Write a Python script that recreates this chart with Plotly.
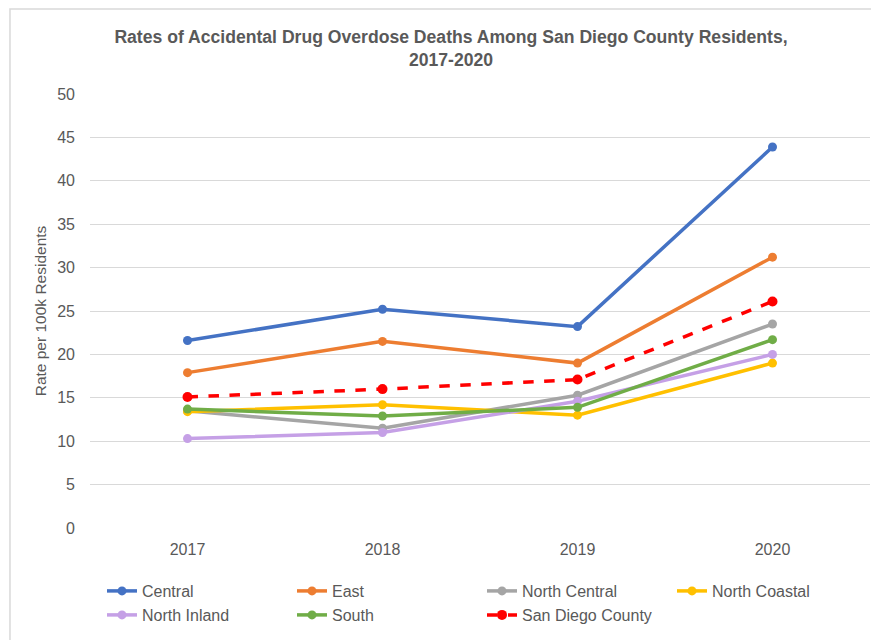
import plotly.graph_objects as go

years = ['2017', '2018', '2019', '2020']

central = [21.6, 25.2, 23.2, 43.9]
east = [17.9, 21.5, 19.0, 31.2]
north_central = [13.5, 11.5, 15.3, 23.5]
north_coastal = [13.4, 14.2, 13.0, 19.0]
north_inland = [10.3, 11.0, 14.6, 20.0]
south = [13.7, 12.9, 13.9, 21.7]
san_diego = [15.1, 16.0, 17.1, 26.1]

y_ticks = [0, 5, 10, 15, 20, 25, 30, 35, 40, 45, 50]

grey_text = '#595959'
# page body has an 8px margin, so the plot area margins are moved 8px up/left
off = 8

# (name, values, colour, legend row) - same order as the excel series, later ones drawn on top
series = [
    ('Central', central, '#4472C4', 'legend'),
    ('East', east, '#ED7D31', 'legend'),
    ('North Central', north_central, '#A5A5A5', 'legend'),
    ('North Coastal', north_coastal, '#FFC000', 'legend'),
    ('North Inland', north_inland, '#C5A0E6', 'legend2'),
    ('South', south, '#70AD47', 'legend2'),
]

fig = go.Figure()

for name, vals, col, leg in series:
    fig.add_trace(go.Scatter(x=years, y=vals, mode='lines+markers', name=name,
                             line=dict(color=col, width=3.5),
                             marker=dict(color=col, size=9),
                             legend=leg))

fig.add_trace(go.Scatter(x=years, y=san_diego, mode='lines+markers', name='San Diego County',
                         line=dict(color='#FF0000', width=3.5, dash='dash'),
                         marker=dict(color='#FF0000', size=10),
                         legend='legend2'))

legend_common = dict(orientation='h', xref='container', x=94/879, xanchor='left',
                     yref='container', yanchor='middle',
                     entrywidth=145, entrywidthmode='pixels', traceorder='normal',
                     font=dict(family='Liberation Sans', size=16, color=grey_text),
                     bgcolor='rgba(0,0,0,0)', itemclick=False)

fig.update_layout(
    width=879, height=640,
    autosize=False,
    margin=dict(l=90 - off, r=9 + off, t=94 - off, b=112 + off),
    paper_bgcolor='white',
    plot_bgcolor='white',
    font=dict(family='Liberation Sans', size=16, color=grey_text),
    title=dict(text='<b>Rates of Accidental Drug Overdose Deaths Among San Diego County Residents,<br>2017-2020</b>',
               x=(451 - off)/879, xanchor='center', xref='container',
               y=1 - 35/640, yanchor='top', yref='container',
               font=dict(family='Liberation Sans', size=17.6, color=grey_text)),
    legend=dict(legend_common, y=(640 - 591 + off)/640),
    legend2=dict(legend_common, y=(640 - 615 + off)/640),
    showlegend=True,
    shapes=[dict(type='rect', xref='paper', yref='paper',
                 x0=-0.1026, x1=1.05, y0=-0.3, y1=1.196,
                 line=dict(color='#D9D9D9', width=1.5), fillcolor='rgba(0,0,0,0)', layer='below')],
)

fig.update_xaxes(type='category', showgrid=False, showline=False, zeroline=False,
                 ticks='', automargin=False, ticklabelstandoff=10,
                 tickfont=dict(size=16, color=grey_text), range=[-0.5, 3.5])
fig.update_yaxes(range=[0, 50], tickvals=y_ticks, showgrid=True, gridcolor='#D9D9D9',
                 gridwidth=1, zeroline=False, showline=False, ticks='',
                 automargin=False, ticklabelstandoff=14,
                 tickfont=dict(size=16, color=grey_text),
                 title=dict(text='Rate per 100k Residents', standoff=6,
                            font=dict(size=15.5, color=grey_text)))

fig.write_html('out.html')
